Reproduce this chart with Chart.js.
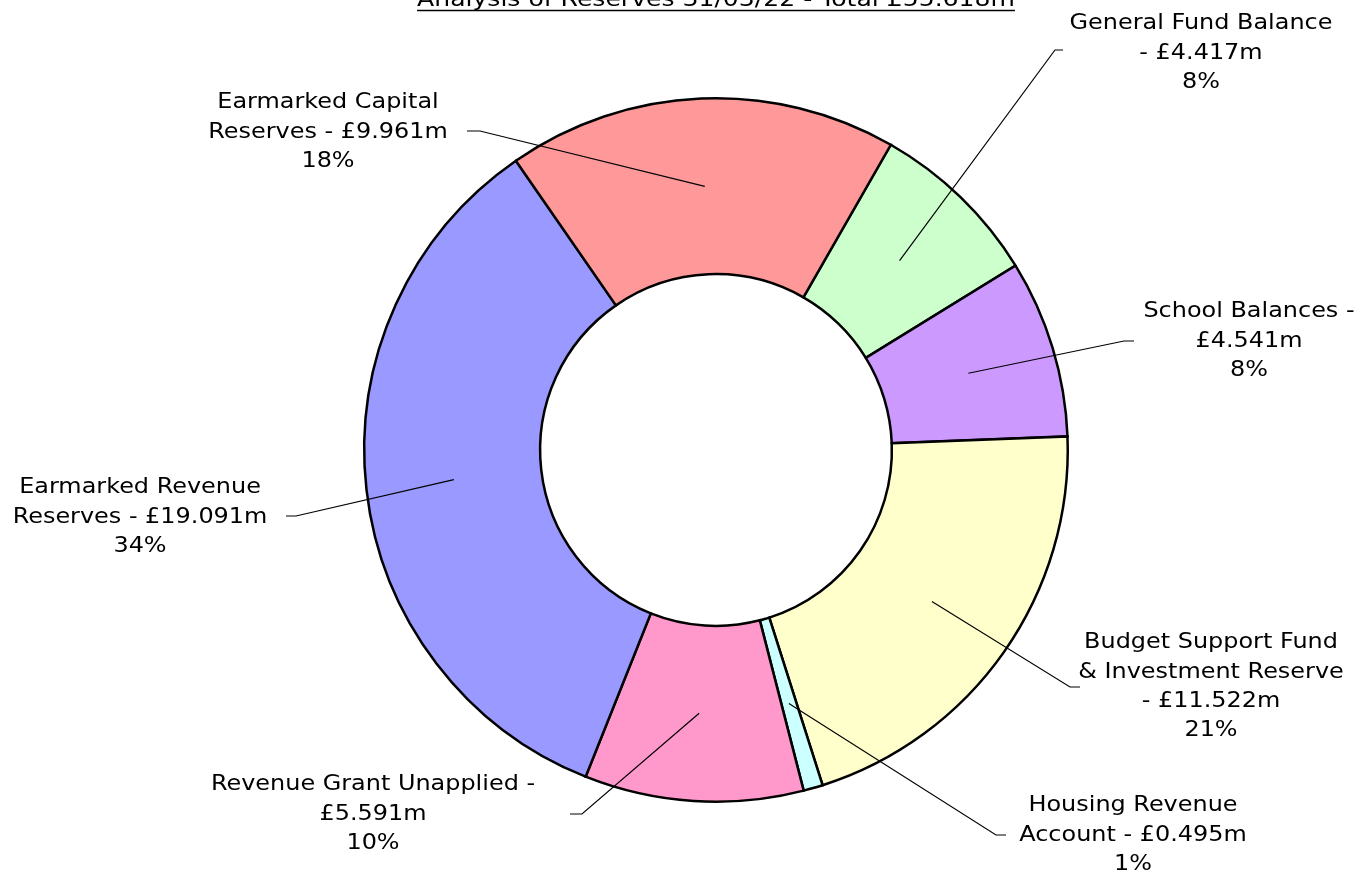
<!DOCTYPE html>
<html>
<head>
<meta charset="utf-8">
<script src="https://cdn.jsdelivr.net/npm/chart.js@4"></script>
<style>
  html, body { margin: 0; padding: 0; background: #fff; }
  #wrap { width: 1364px; height: 874px; position: relative; }
</style>
</head>
<body>
<div id="wrap"><canvas id="reservesChart" width="1364" height="874"></canvas></div>
<script>
const title = 'Analysis of Reserves 31/03/22 - Total £55.618m';
const categories = [
  'General Fund Balance',
  'School Balances',
  'Budget Support Fund & Investment Reserve',
  'Housing Revenue Account',
  'Revenue Grant Unapplied',
  'Earmarked Revenue Reserves',
  'Earmarked Capital Reserves'
];
const values = [4.417, 4.541, 11.522, 0.495, 5.591, 19.091, 9.961];
const colours = ['#CCFFCC', '#CC99FF', '#FFFFCC', '#CCFFFF', '#FF99CC', '#9999FF', '#FF9999'];

// label text lines, as wrapped in the original
const labelLines = [
  ['General Fund Balance', '- £4.417m', '8%'],
  ['School Balances -', '£4.541m', '8%'],
  ['Budget Support Fund', '& Investment Reserve', '- £11.522m', '21%'],
  ['Housing Revenue', 'Account - £0.495m', '1%'],
  ['Revenue Grant Unapplied -', '£5.591m', '10%'],
  ['Earmarked Revenue', 'Reserves - £19.091m', '34%'],
  ['Earmarked Capital', 'Reserves - £9.961m', '18%']
];
// layout: label centre x, first line y, leader elbow point
const labelBox = [
  { x: 1201, y: 24, ex: 1055, ey: 50, tx: 1063 },
  { x: 1249, y: 312, ex: 1124, ey: 341, tx: 1134 },
  { x: 1211, y: 643, ex: 1070, ey: 687, tx: 1080 },
  { x: 1133, y: 806, ex: 996, ey: 835, tx: 1006 },
  { x: 373, y: 785, ex: 582, ey: 814, tx: 570 },
  { x: 140, y: 488, ex: 296, ey: 516, tx: 286 },
  { x: 328, y: 103, ex: 480, ey: 131, tx: 467 }
];

const FAMILY = '"DejaVu Sans", Verdana, sans-serif';
const STRETCH = 1.167; // reference face is wider than DejaVu

function wideText(ctx, text, x, y) {
  ctx.save();
  ctx.translate(x, y);
  ctx.scale(STRETCH, 1);
  ctx.fillText(text, 0, 0);
  ctx.restore();
}

const labelPlugin = {
  id: 'outsideLabels',
  afterDraw(chart) {
    const ctx = chart.ctx;
    const meta = chart.getDatasetMeta(0);
    ctx.save();
    // title, partly cut off at the top as in the original
    ctx.font = '21.5px ' + FAMILY;
    ctx.fillStyle = '#000';
    ctx.textAlign = 'center';
    ctx.textBaseline = 'alphabetic';
    wideText(ctx, title, 716, 6);
    const tw = ctx.measureText(title).width * STRETCH;
    ctx.strokeStyle = '#000';
    ctx.lineWidth = 1.5;
    ctx.beginPath();
    ctx.moveTo(716 - tw / 2, 10.5);
    ctx.lineTo(716 + tw / 2, 10.5);
    ctx.stroke();

    ctx.font = '20.5px ' + FAMILY;
    meta.data.forEach((arc, i) => {
      const p = arc.tooltipPosition();
      const b = labelBox[i];
      ctx.strokeStyle = '#000';
      ctx.lineWidth = 1.2;
      ctx.beginPath();
      ctx.moveTo(p.x, p.y);
      ctx.lineTo(b.ex, b.ey);
      ctx.lineTo(b.tx, b.ey);
      ctx.stroke();
      ctx.fillStyle = '#000';
      ctx.textAlign = 'center';
      ctx.textBaseline = 'middle';
      labelLines[i].forEach((line, j) => {
        wideText(ctx, line, b.x, b.y + j * 29.3);
      });
    });
    ctx.restore();
  }
};

new Chart(document.getElementById('reservesChart'), {
  type: 'doughnut',
  data: {
    labels: categories,
    datasets: [{
      data: values,
      backgroundColor: colours,
      borderColor: '#000',
      borderWidth: 2.5,
      borderJoinStyle: 'miter'
    }]
  },
  options: {
    responsive: false,
    animation: false,
    rotation: 29.8,
    cutout: '50%',
    layout: { padding: { left: 363, right: 295, top: 97, bottom: 71 } },
    plugins: {
      legend: { display: false },
      tooltip: { enabled: false },
      title: { display: false }
    }
  },
  plugins: [labelPlugin]
});
</script>
</body>
</html>
